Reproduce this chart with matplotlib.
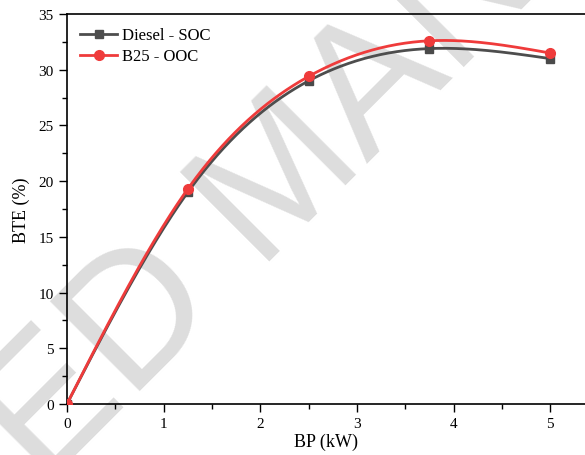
import numpy as np
import matplotlib
matplotlib.use("Agg")
from matplotlib import pyplot as plt
from matplotlib.ticker import MultipleLocator

bp = [0, 1.25, 2.5, 3.75, 5]
bte_diesel = [0, 19.0, 29.0, 31.9, 31.0]
bte_b25 = [0, 19.3, 29.4, 32.6, 31.5]
labels = ["Diesel - SOC", "B25 - OOC"]


def natural_spline(x, y, xs):
    # plain natural cubic spline, no scipy needed
    x = np.asarray(x, float)
    y = np.asarray(y, float)
    n = len(x)
    h = np.diff(x)
    A = np.zeros((n, n))
    r = np.zeros(n)
    A[0, 0] = A[-1, -1] = 1
    for i in range(1, n - 1):
        A[i, i - 1] = h[i - 1]
        A[i, i] = 2 * (h[i - 1] + h[i])
        A[i, i + 1] = h[i]
        r[i] = 6 * ((y[i + 1] - y[i]) / h[i] - (y[i] - y[i - 1]) / h[i - 1])
    m = np.linalg.solve(A, r)
    idx = np.clip(np.searchsorted(x, xs) - 1, 0, n - 2)
    t = xs - x[idx]
    hi = h[idx]
    a = y[idx]
    b = (y[idx + 1] - y[idx]) / hi - hi * (2 * m[idx] + m[idx + 1]) / 6
    c = m[idx] / 2
    d = (m[idx + 1] - m[idx]) / (6 * hi)
    return a + b * t + c * t ** 2 + d * t ** 3


plt.rcParams["font.family"] = ["Liberation Serif", "DejaVu Serif"]

fig = plt.figure(figsize=(5.85, 4.56), dpi=100)
ax = fig.add_axes([0.1145, 0.112, 0.8855, 0.855])

# watermark behind everything else
fig.text(0.485, 0.605, "ACCEPTED MANUSCRIPT", fontsize=132, color="#dddddd",
         family=["Liberation Sans Narrow", "Liberation Sans"], rotation=45,
         ha="center", va="center", rotation_mode="anchor", zorder=-1)
ax.set_facecolor("none")

xs = np.linspace(bp[0], bp[-1], 300)
ax.plot(xs, natural_spline(bp, bte_diesel, xs), color="#4d4d4d", lw=2, zorder=3)
ax.plot(bp, bte_diesel, "s", color="#4a4a4a", ms=6, zorder=4)
ax.plot(xs, natural_spline(bp, bte_b25, xs), color="#ef3b3b", lw=2, zorder=5)
ax.plot(bp, bte_b25, "o", color="#ef3b3b", ms=7, zorder=6)

# legend handles
ax.plot([], [], "-s", color="#4d4d4d", lw=2, ms=6, label=labels[0])
ax.plot([], [], "-o", color="#ef3b3b", lw=2, ms=7, label=labels[1])
ax.legend(loc="upper left", frameon=False, fontsize=12, handlelength=2.2,
          handletextpad=0.3, labelspacing=0.3, borderaxespad=0.4,
          bbox_to_anchor=(0.0, 1.0))

ax.set_xlim(0, 5.36)
ax.set_ylim(0, 35)
ax.xaxis.set_major_locator(MultipleLocator(1))
ax.xaxis.set_minor_locator(MultipleLocator(0.5))
ax.yaxis.set_major_locator(MultipleLocator(5))
ax.yaxis.set_minor_locator(MultipleLocator(2.5))
ax.tick_params(which="major", direction="out", length=6, width=1, labelsize=11)
ax.tick_params(which="minor", direction="out", length=3.5, width=1)
ax.spines["right"].set_visible(False)
for s in ["left", "bottom", "top"]:
    ax.spines[s].set_linewidth(1.2)

ax.set_xlabel("BP (kW)", fontsize=13, labelpad=2)
ax.set_ylabel("BTE (%)", fontsize=13, labelpad=6)

fig.savefig("out.png", dpi=100)
